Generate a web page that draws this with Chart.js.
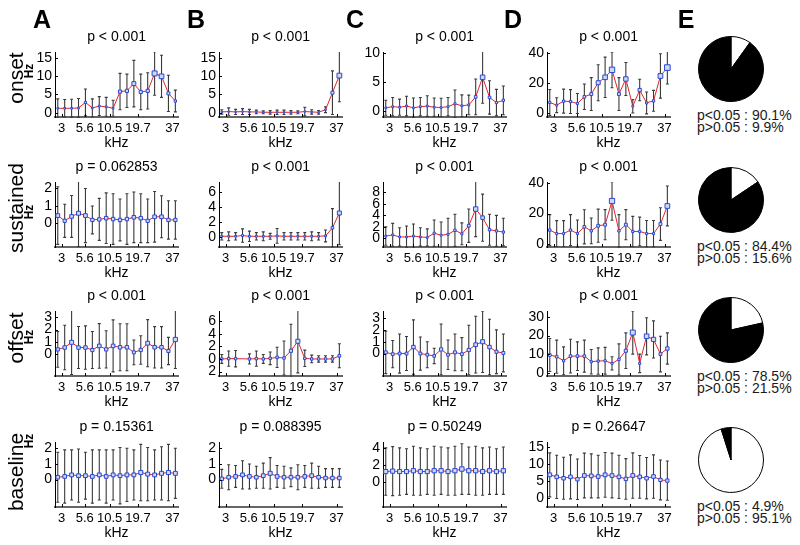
<!DOCTYPE html>
<html>
<head>
<meta charset="utf-8">
<script src="https://cdn.jsdelivr.net/npm/chart.js@4.4.0/dist/chart.umd.min.js"></script>
<style>
  body { margin: 0; background: #fff; font-family: "Liberation Sans", Arial, sans-serif; }
  #fig { position: relative; width: 800px; height: 545px; overflow: hidden; background: #fff; }
  #fig canvas { position: absolute; }
  .txt { position: absolute; white-space: nowrap; line-height: 1; color: #000; }
  .letter { font-weight: bold; font-size: 25px; transform: translateX(-50%); }
  .rowname { font-size: 21px; transform: translate(-50%, -50%) rotate(-90deg); }
  .hz { font-size: 12px; font-weight: bold; transform: translate(-50%, -50%) rotate(-90deg); }
  .pietxt { font-size: 14px; line-height: 12px; color: #1a1a1a; }
</style>
</head>
<body>
<div id="fig"></div>
<script>
// tone frequencies (kHz), one point per tone, and labelled ticks
const freqs = [2.75, 3.2, 3.75, 4.4, 5.15, 6.0, 7.0, 8.2, 9.6, 11.25, 13.15, 15.4, 18.0, 21.05, 24.6, 28.8, 33.7, 39.4];
const tickLabels = ['3', '5.6', '10.5', '19.7', '37'];
const tickPos = [0.55, 3.9, 7.5, 11.6, 16.6]; // position along the tone index

const rowNames = ['onset', 'sustained', 'offset', 'baseline'];
const colNames = ['A', 'B', 'C', 'D', 'E'];

const titlesOnset = ['p < 0.001', 'p < 0.001', 'p < 0.001', 'p < 0.001'];
const titlesSustained = ['p = 0.062853', 'p < 0.001', 'p < 0.001', 'p < 0.001'];
const titlesOffset = ['p < 0.001', 'p < 0.001', 'p < 0.001', 'p < 0.001'];
const titlesBaseline = ['p = 0.15361', 'p = 0.088395', 'p = 0.50249', 'p = 0.26647'];

// onset
const onsetA = [1.2, 1.2, 1.2, 1.3, 2.8, 1.3, 1.8, 1.6, 1.2, 5.8, 6.0, 8.0, 5.7, 6.0, 10.8, 10.0, 5.3, 3.2];
const onsetAErr = [2.6, 2.4, 2.5, 2.6, 3.7, 2.5, 2.6, 2.6, 2.2, 5.0, 4.6, 6.4, 4.9, 5.0, 6.0, 5.8, 5.0, 3.0];
const onsetB = [0.2, 0.3, 0.2, 0.3, 0.2, 0.2, 0.1, 0.1, 0.1, 0.1, 0.1, 0.1, 0.3, 0.2, 0.1, 0.8, 5.5, 10.2];
const onsetBErr = [0.6, 1.0, 0.7, 0.8, 0.7, 0.5, 0.4, 0.5, 0.6, 0.6, 0.5, 0.4, 1.2, 0.6, 0.5, 0.8, 6.0, 7.2];
const onsetC = [0.5, 0.7, 0.6, 0.8, 0.5, 0.7, 0.8, 0.6, 0.55, 0.7, 1.2, 0.85, 1.0, 2.4, 5.8, 2.3, 1.4, 1.8];
const onsetCErr = [1.3, 1.6, 1.4, 1.7, 1.7, 1.6, 1.8, 1.6, 1.6, 1.6, 2.4, 1.9, 1.7, 3.1, 4.5, 2.9, 2.3, 2.5];
const onsetD = [7, 5.2, 7.9, 7.6, 6.3, 10.8, 12.6, 20.2, 23.8, 28.8, 12.6, 22.7, 4.5, 15.3, 6.7, 8.1, 24.7, 30.3];
const onsetDErr = [8.7, 5, 8, 8, 6.7, 8.5, 11, 12, 13.5, 12, 11, 11, 4.5, 7.2, 7.3, 7, 14.8, 11];

// sustained
const sustainedA = [0.45, 0.15, 0.4, 0.58, 0.45, 0.2, 0.23, 0.3, 0.25, 0.2, 0.25, 0.35, 0.3, 0.15, 0.38, 0.38, 0.2, 0.2];
const sustainedAErr = [1.65, 0.95, 1.2, 1.9, 1.55, 0.8, 1.2, 1.45, 1.45, 1.2, 1.45, 1.45, 1.4, 1.25, 1.45, 1.2, 1.1, 1.1];
const sustainedB = [0.05, 0.05, 0.05, 0.15, 0.05, 0.05, 0.05, 0.05, 0.1, 0.05, 0.05, 0.05, 0.05, 0.05, 0.05, 0.1, 1.2, 3.2];
const sustainedBErr = [0.5, 0.6, 0.5, 0.9, 0.7, 0.5, 0.6, 0.4, 1.0, 0.5, 0.5, 0.5, 0.5, 0.6, 0.5, 0.8, 2.6, 4.3];
const sustainedC = [0.4, 0.6, 0.25, 0.25, 0.4, 0.25, 0.15, 0.9, 0.55, 0.7, 1.4, 0.8, 2.2, 5.1, 3.6, 1.5, 1.3, 1.1];
const sustainedCErr = [1.6, 2.0, 1.6, 1.9, 2.1, 1.6, 1.5, 2.3, 2.3, 2.8, 2.8, 1.9, 2.9, 4.8, 4.1, 2.7, 2.7, 2.4];
const sustainedD = [9, 6.7, 6.7, 9, 6.7, 11.2, 8.5, 11.9, 12.6, 28.3, 8.5, 12.6, 8.1, 8.1, 6.7, 6.7, 13, 25];
const sustainedDErr = [10.3, 8.6, 8.6, 10.3, 9, 11.3, 8.5, 11, 10, 12.8, 10.8, 10, 10, 9.5, 8.7, 8.7, 10.8, 13.2];

// offset
const offsetA = [0.4, 0.55, 0.97, 0.55, 0.55, 0.35, 0.68, 0.4, 0.68, 0.57, 0.57, 0.16, 0.35, 0.9, 0.57, 0.57, 0.27, 1.2];
const offsetAErr = [1.44, 1.8, 2.6, 1.7, 1.75, 1.5, 1.8, 1.5, 2.1, 1.9, 1.9, 1.0, 1.15, 1.9, 1.67, 1.67, 1.1, 2.35];
const offsetB = [0, 0.05, 0.05, null, 0, 0.05, 0, 0.1, 0.25, 0.15, 1.3, 2.8, 0.1, 0, 0, 0, 0, 0.5];
const offsetBErr = [0.7, 1.2, 1.3, 0, 0.8, 1.2, 0.7, 1.0, 1.6, 2.7, 4.2, 5.0, 1.3, 0.6, 0.5, 0.5, 0.5, 1.9];
const offsetC = [0.1, -0.05, 0, 0, 0.55, 0, -0.1, -0.2, 0.35, -0.1, 0.1, -0.05, 0.3, 0.75, 1.0, 0.55, 0.15, 0.05];
const offsetCErr = [1.8, 1.15, 1.66, 1.44, 2.3, 1.4, 1.1, 0.65, 2.15, 1.25, 1.56, 1.4, 2.1, 2.4, 2.6, 2.35, 1.85, 1.6];
const offsetD = [9.5, 8.6, 6.4, 8.9, 8.9, 8.9, 5.9, 6.25, 6.4, 5.0, 7.1, 11.8, 21.6, 5.0, 19.6, 17.9, 10, 13];
const offsetDErr = [8.9, 8.9, 7.5, 9.1, 7.7, 8.6, 6.6, 7.1, 7.2, 3.6, 8.4, 9.6, 11.6, 5, 10, 10, 9.6, 8.4];

// baseline
const baselineA = [0.15, 0.2, 0.3, 0.25, 0.25, 0.2, 0.3, 0.2, 0.3, 0.25, 0.3, 0.3, 0.45, 0.35, 0.3, 0.4, 0.45, 0.4];
const baselineAErr = [1.6, 1.7, 1.6, 1.7, 1.5, 1.7, 1.6, 1.7, 1.6, 1.8, 1.7, 1.6, 1.8, 1.7, 1.6, 1.7, 1.8, 1.6];
const baselineB = [0.05, 0.15, 0.2, 0.3, 0.2, 0.15, 0.25, 0.4, 0.2, 0.15, 0.15, 0.15, 0.2, 0.25, 0.15, 0.1, 0.1, 0.1];
const baselineBErr = [0.6, 0.8, 0.7, 0.9, 0.8, 0.7, 0.8, 1.0, 0.7, 0.7, 0.6, 0.8, 0.7, 0.8, 0.7, 0.6, 0.6, 0.6];
const baselineC = [1.2, 1.25, 1.2, 1.2, 1.3, 1.2, 1.2, 1.3, 1.3, 1.2, 1.3, 1.5, 1.3, 1.3, 1.2, 1.3, 1.2, 1.3];
const baselineCErr = [2.8, 2.9, 2.8, 2.7, 2.9, 2.8, 2.7, 2.9, 2.8, 2.8, 2.9, 3.0, 2.8, 2.9, 2.8, 2.8, 2.7, 2.8];
const baselineD = [6.8, 6.2, 5.8, 6.2, 5.5, 6.6, 6.5, 6.3, 6.8, 6.6, 6.2, 5.6, 6.6, 6.2, 5.8, 6.3, 5.3, 5.1];
const baselineDErr = [6.5, 6.4, 6.2, 6.5, 6.0, 6.6, 6.5, 6.3, 6.6, 6.6, 6.4, 6.0, 6.7, 6.3, 6.1, 6.4, 5.9, 5.8];

// y tick values per row, columns A-D
const yTicksOnset = [[0, 5, 10, 15], [0, 5, 10, 15], [0, 5, 10], [0, 20, 40]];
const yTicksSustained = [[0, 1, 2], [0, 2, 4, 6], [0, 2, 4, 6, 8], [0, 20, 40]];
const yTicksOffset = [[0, 1, 2, 3], [-2, 0, 2, 4, 6], [0, 1, 2, 3], [0, 10, 20, 30]];
const yTicksBaseline = [[0, 1, 2], [0, 1, 2], [0, 2, 4], [0, 5, 10, 15]];

// pie: share of units with p<0.05 / p>0.05
const pieSig = [90.1, 84.4, 78.5, 4.9];
const pieNonSig = [9.9, 15.6, 21.5, 95.1];

// axis limits per panel
const yRanges = [
  [[-1.2, 16.7], [-1.2, 16.7], [-1.1, 10.2], [-2.7, 40.7]],
  [[-1.35, 2.37], [-1.4, 7.4], [-1.5, 9.8], [-2.2, 40.9]],
  [[-1.75, 3.5], [-2.7, 7.6], [-1.9, 3.6], [-1.8, 33.2]],
  [[-1.75, 2.4], [-1.75, 2.4], [-3.0, 4.7], [-2.7, 16.5]]
];

const rows = [
  { titles: titlesOnset, ticks: yTicksOnset, series: [[onsetA, onsetAErr], [onsetB, onsetBErr], [onsetC, onsetCErr], [onsetD, onsetDErr]] },
  { titles: titlesSustained, ticks: yTicksSustained, series: [[sustainedA, sustainedAErr], [sustainedB, sustainedBErr], [sustainedC, sustainedCErr], [sustainedD, sustainedDErr]] },
  { titles: titlesOffset, ticks: yTicksOffset, series: [[offsetA, offsetAErr], [offsetB, offsetBErr], [offsetC, offsetCErr], [offsetD, offsetDErr]] },
  { titles: titlesBaseline, ticks: yTicksBaseline, series: [[baselineA, baselineAErr], [baselineB, baselineBErr], [baselineC, baselineCErr], [baselineD, baselineDErr]] }
];

const FONT = '"Liberation Sans", Arial, sans-serif';
const colLeft = [55, 219, 383, 547];
const rowTop = [52, 182, 311, 442];
const PW = 125, PH = 65, PAD_L = 32, PAD_T = 28, PAD_R = 4, PAD_B = 36;

const fig = document.getElementById('fig');

function addText(cls, text, left, top) {
  const d = document.createElement('div');
  d.className = 'txt ' + cls;
  d.textContent = text;
  d.style.left = left + 'px';
  d.style.top = top + 'px';
  fig.appendChild(d);
  return d;
}

function addCanvas(left, top, w, h) {
  const cv = document.createElement('canvas');
  cv.width = w; cv.height = h;
  cv.style.left = left + 'px'; cv.style.top = top + 'px';
  cv.style.width = w + 'px'; cv.style.height = h + 'px';
  fig.appendChild(cv);
  return cv;
}

// error bars drawn through the chart's scales
const errorBars = {
  id: 'errorBars',
  beforeDatasetsDraw(chart) {
    const { ctx, chartArea: a, scales: { x, y } } = chart;
    const ds = chart.data.datasets[0];
    ctx.save();
    ctx.beginPath();
    ctx.rect(a.left, a.top, a.width, a.height + 1);
    ctx.clip();
    ctx.strokeStyle = '#3a3a3a';
    ctx.lineWidth = 1.1;
    ds.data.forEach((p, i) => {
      if (p.y == null) return;
      const e = ds.errors[i];
      if (!e) return;
      const px = x.getPixelForValue(p.x);
      const y1 = y.getPixelForValue(p.y - e);
      const y2 = y.getPixelForValue(p.y + e);
      ctx.beginPath();
      ctx.moveTo(px, y1); ctx.lineTo(px, y2);
      ctx.moveTo(px - 1.5, y1); ctx.lineTo(px + 1.5, y1);
      ctx.moveTo(px - 1.5, y2); ctx.lineTo(px + 1.5, y2);
      ctx.stroke();
    });
    ctx.restore();
  }
};

function deco(title) {
  return {
    id: 'deco',
    afterDraw(chart) {
      const { ctx, chartArea: a, scales: { x, y } } = chart;
      ctx.save();
      ctx.strokeStyle = '#000';
      ctx.lineWidth = 1;
      ctx.beginPath();
      y.ticks.forEach(t => {
        const py = Math.round(y.getPixelForValue(t.value)) + 0.5;
        ctx.moveTo(a.left, py); ctx.lineTo(a.left + 3, py);
      });
      x.ticks.forEach(t => {
        const px = Math.round(x.getPixelForValue(t.value)) + 0.5;
        ctx.moveTo(px, a.bottom); ctx.lineTo(px, a.bottom - 3);
      });
      ctx.stroke();
      ctx.fillStyle = '#000';
      ctx.font = '14px ' + FONT;
      ctx.textAlign = 'center';
      ctx.textBaseline = 'middle';
      ctx.fillText(title, (a.left + a.right) / 2, a.top - 15);
      ctx.fillText('kHz', (a.left + a.right) / 2, a.bottom + 26);
      ctx.restore();
    }
  };
}

function makePanel(r, c) {
  const row = rows[r];
  const [vals, errs] = row.series[c];
  const [lo, hi] = yRanges[r][c];
  const yt = row.ticks[c];
  const cv = addCanvas(colLeft[c] - PAD_L, rowTop[r] - PAD_T, PAD_L + PW + PAD_R, PAD_T + PH + PAD_B);
  new Chart(cv, {
    type: 'line',
    data: {
      datasets: [{
        data: freqs.map((f, i) => ({ x: i, y: vals[i] })),
        errors: errs,
        borderColor: '#e8212e',
        borderWidth: 1,
        tension: 0,
        spanGaps: true,
        clip: 6,
        pointStyle: 'rect',
        pointBorderColor: '#2a48d8',
        pointBackgroundColor: '#cdd9ee',
        pointBorderWidth: 1,
        pointRadius: ctx => {
          const v = ctx.raw && ctx.raw.y;
          if (v == null) return 0;
          const f = Math.max(0, Math.min(1, (v - lo) / (hi - lo)));
          return 0.8 + 4.4 * Math.pow(f, 1.2);
        }
      }]
    },
    options: {
      responsive: false,
      animation: false,
      devicePixelRatio: 1,
      layout: { autoPadding: false, padding: { left: 0, top: PAD_T, right: PAD_R, bottom: 0 } },
      plugins: { legend: { display: false }, tooltip: { enabled: false } },
      scales: {
        x: {
          type: 'linear',
          min: -0.4, max: freqs.length - 0.6,
          afterBuildTicks: s => { s.ticks = tickPos.map(v => ({ value: v })); },
          afterFit: s => { s.height = PAD_B; },
          ticks: {
            autoSkip: false, maxRotation: 0, padding: 4, color: '#000',
            font: { family: FONT, size: 13 },
            callback: (v, i) => tickLabels[i]
          },
          grid: { display: false, drawTicks: false },
          border: { display: true, color: '#666', width: 2 }
        },
        y: {
          min: lo, max: hi,
          afterBuildTicks: s => { s.ticks = yt.map(v => ({ value: v })); },
          afterFit: s => { s.width = PAD_L; },
          ticks: {
            autoSkip: false, padding: 3, color: '#000',
            font: { family: FONT, size: 14 },
            callback: v => String(Math.abs(v))
          },
          grid: { display: false, drawTicks: false },
          border: { display: true, color: '#000', width: 1 }
        }
      }
    },
    plugins: [errorBars, deco(row.titles[c])]
  });
}

for (let r = 0; r < 4; r++) {
  for (let c = 0; c < 4; c++) makePanel(r, c);
}

// pies
const pieCY = [69, 200, 330, 460];
const pieCX = 730.5, PIE = 66;
pieCY.forEach((cy, i) => {
  const cv = addCanvas(Math.round(pieCX - PIE / 2), cy - PIE / 2, PIE, PIE);
  new Chart(cv, {
    type: 'pie',
    data: {
      labels: ['p>0.05', 'p<0.05'],
      datasets: [{
        data: [pieNonSig[i], pieSig[i]],
        backgroundColor: ['#ffffff', '#000000'],
        borderColor: '#000',
        borderWidth: 1
      }]
    },
    options: {
      responsive: false, animation: false, devicePixelRatio: 1,
      layout: { padding: 0 },
      plugins: { legend: { display: false }, tooltip: { enabled: false } }
    }
  });
  const t = addText('pietxt', '', 697, cy + 40);
  t.innerHTML = 'p&lt;0.05 : ' + pieSig[i] + '%<br>p&gt;0.05 : ' + pieNonSig[i] + '%';
});

// panel letters
const letterX = [42, 196, 355, 513, 686];
colNames.forEach((n, i) => addText('letter', n, letterX[i], 7));

// row names and units
const rowNameY = [78, 208, 338, 472];
const hzY = [71, 212, 337, 441];
rowNames.forEach((n, i) => {
  addText('rowname', n, 15, rowNameY[i]);
  addText('hz', 'Hz', 29, hzY[i]);
});
</script>
</body>
</html>
